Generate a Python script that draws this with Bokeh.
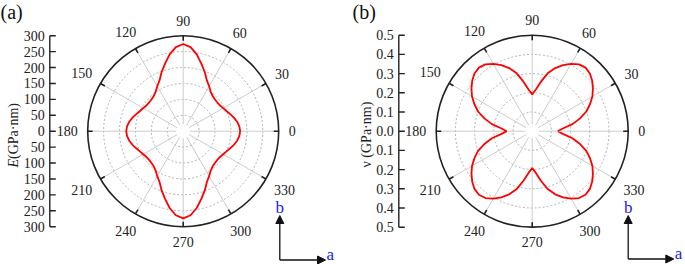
import numpy as np
from bokeh.plotting import figure
from bokeh.layouts import row
from bokeh.models import Range1d, Arrow, NormalHead
from bokeh.core.properties import value
from bokeh.embed import file_html
from bokeh.resources import INLINE

# ---------------- data ----------------
angles_quarter = [0, 5, 10, 15, 20, 25, 30, 35, 40, 45, 50, 55, 60, 65, 70, 75, 80, 85, 90]
E_quarter = [179, 177, 172, 165, 157, 150, 145, 141, 140, 141, 144, 151, 163, 176, 198, 220, 245, 265, 274]
nu_quarter = [0.133, 0.160, 0.213, 0.258, 0.300, 0.332, 0.362, 0.386, 0.408, 0.425, 0.432,
              0.425, 0.405, 0.380, 0.350, 0.312, 0.262, 0.218, 0.192]

E_ticks = [300, 250, 200, 150, 100, 50, 0, -50, -100, -150, -200, -250, -300]
E_tick_labels = ["300", "250", "200", "150", "100", "50", "0", "50", "100", "150", "200", "250", "300"]
E_rings = [50, 100, 150, 200, 250]
E_max = 300

nu_ticks = [0.5, 0.4, 0.3, 0.2, 0.1, 0.0, -0.1, -0.2, -0.3, -0.4, -0.5]
nu_tick_labels = ["0.5", "0.4", "0.3", "0.2", "0.1", "0.0", "0.1", "0.2", "0.3", "0.4", "0.5"]
nu_rings = [0.1, 0.2, 0.3, 0.4]
nu_max = 0.5

angle_ticks = [0, 30, 60, 90, 120, 150, 180, 210, 240, 270, 300, 330]
angle_labels = ["0", "30", "60", "90", "120", "150", "180", "210", "240", "270", "300", "330"]

FONT = value("'Liberation Serif', 'Times New Roman', serif")
H = 264


def full_curve(ang_q, r_q):
    a = np.array(ang_q, dtype=float)
    r = np.array(r_q, dtype=float)
    a2 = 180 - a[::-1][1:]
    r2 = r[::-1][1:]
    ah = np.concatenate([a, a2])
    rh = np.concatenate([r, r2])
    af = np.concatenate([ah, ah[1:] + 180])
    rf = np.concatenate([rh, rh[1:]])
    return np.deg2rad(af), rf


def panel(width, cx, cy, R_px, rmax, rings, ticks, tick_labels, curve_r,
          axis_x, letter, title_parts, corner):
    s = rmax / R_px  # data units per pixel
    p = figure(width=width, height=H, output_backend="svg", toolbar_location=None,
               x_axis_location=None, y_axis_location=None, min_border=0,
               x_range=Range1d(-cx * s, (width - cx) * s),
               y_range=Range1d(-(H - cy) * s, cy * s))
    p.grid.visible = False
    p.outline_line_color = None

    def X(gx):
        return (gx - cx) * s

    def Y(gy):
        return (cy - gy) * s

    # dotted rings
    p.circle(x=[0] * len(rings), y=[0] * len(rings), radius=rings, fill_color=None,
             line_color="#a0a0a0", line_dash="2 2", line_width=0.8)
    # spokes
    th = np.deg2rad(angle_ticks)
    r0 = 7 * s
    p.segment(x0=r0 * np.cos(th), y0=r0 * np.sin(th), x1=rmax * np.cos(th), y1=rmax * np.sin(th),
              line_color="#cccccc", line_width=1)
    # outer circle
    p.circle(x=[0], y=[0], radius=[rmax], fill_color=None, line_color="#222222", line_width=1.6)
    # angular ticks (inward)
    ri = rmax - 5 * s
    p.segment(x0=ri * np.cos(th), y0=ri * np.sin(th), x1=rmax * np.cos(th), y1=rmax * np.sin(th),
              line_color="#222222", line_width=1.6)
    # angle labels
    lx, ly = [], []
    for a, lab in zip(angle_ticks, angle_labels):
        t = np.deg2rad(a)
        w = 7.0 * len(lab)
        off = R_px + 10 + (w / 2) * abs(np.cos(t)) + 5 * abs(np.sin(t))
        lx.append(off * s * np.cos(t))
        ly.append(off * s * np.sin(t))
    p.text(x=lx, y=ly, text=angle_labels, text_font=FONT, text_font_size=value("14px"),
           text_align="center", text_baseline="middle", text_color="#222222")
    # curve
    tt, rr = curve_r
    p.line(x=rr * np.cos(tt), y=rr * np.sin(tt), line_color="#ff0000", line_width=1.8)

    # left value axis
    ax = X(axis_x)
    tv = np.array(ticks, dtype=float) * rmax / max(ticks)
    p.segment(x0=[ax], y0=[tv.min()], x1=[ax], y1=[tv.max()], line_color="#222222", line_width=1.4)
    p.segment(x0=[ax] * len(tv), y0=tv, x1=[ax + 6 * s] * len(tv), y1=tv,
              line_color="#222222", line_width=1.4)
    p.text(x=[ax - 5 * s] * len(tv), y=tv, text=tick_labels, text_font=FONT,
           text_font_size=value("14px"), text_align="right", text_baseline="middle",
           text_color="#222222")
    # axis title
    for (txt, gx, gy, style) in title_parts:
        p.text(x=[X(gx)], y=[Y(gy)], text=[txt], angle=np.pi / 2, text_font=FONT,
               text_font_size=value("14px"), text_font_style=style, text_align="left",
               text_baseline="middle", text_color="#222222")
    # panel letter
    p.text(x=[X(letter[1])], y=[Y(letter[2])], text=[letter[0]], text_font=FONT,
           text_font_size=value("20px"), text_align="left", text_baseline="middle",
           text_color="#111111")
    # corner axes a/b
    kx, ky, tipy, tipx = corner
    p.add_layout(Arrow(end=NormalHead(size=8, fill_color="#111111", line_color="#111111"),
                       x_start=X(kx), y_start=Y(ky), x_end=X(kx), y_end=Y(tipy),
                       line_color="#111111", line_width=1.3))
    p.add_layout(Arrow(end=NormalHead(size=8, fill_color="#111111", line_color="#111111"),
                       x_start=X(kx), y_start=Y(ky), x_end=X(tipx), y_end=Y(ky),
                       line_color="#111111", line_width=1.3))
    p.text(x=[X(kx)], y=[Y(tipy - 8)], text=["b"], text_font=FONT, text_font_size=value("17px"),
           text_align="center", text_baseline="middle", text_color="#2222ee")
    p.text(x=[X(tipx + 1)], y=[Y(ky - 6)], text=["a"], text_font=FONT, text_font_size=value("17px"),
           text_align="left", text_baseline="middle", text_color="#2222ee")
    return p


pa = panel(342, 182.7, 130.7, 95.5, E_max, E_rings, E_ticks, E_tick_labels,
           full_curve(angles_quarter, E_quarter), 49.3, ("(a)", 0, 11),
           [("E", 13, 167, "italic"), ("(GPa·nm)", 13, 158.5, "normal")],
           (279.3, 259.5, 215, 325))
pb = panel(343, 189.7, 130.7, 96.0, nu_max, nu_rings, nu_ticks, nu_tick_labels,
           full_curve(angles_quarter, nu_quarter), 56.3, ("(b)", 10, 11),
           [("ν (GPa·nm)", 24, 167, "normal")],
           (285.7, 258.5, 215, 331.3))

layout = row(pa, pb)
open("out.html", "w").write(file_html(layout, INLINE))
